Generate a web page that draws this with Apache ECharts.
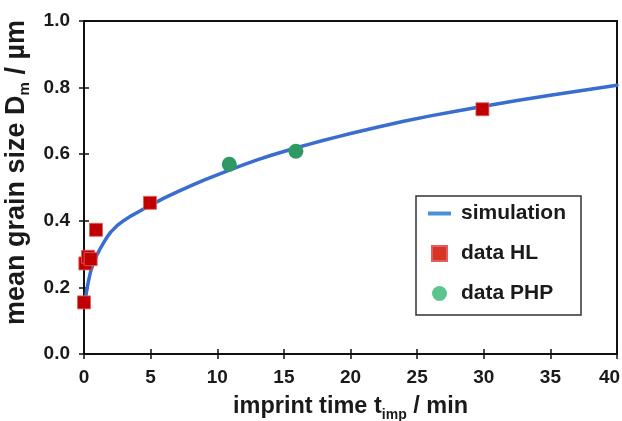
<!DOCTYPE html>
<html>
<head>
<meta charset="utf-8">
<script src="https://cdn.jsdelivr.net/npm/echarts@6/dist/echarts.min.js"></script>
<style>
  html, body { margin: 0; padding: 0; background: #fff; }
  #chart { width: 622px; height: 421px; }
</style>
</head>
<body>
<div id="chart"></div>
<script>
// Simulated grain size curve (imprint time in min, mean grain size in µm)
const simTime = [0.12, 0.2, 0.3, 0.4, 0.5, 0.65, 0.8, 1.0, 1.25, 1.5, 1.75, 2.0, 2.5, 3.0, 3.5, 4.0, 4.5, 5.0,
                 6, 7, 8, 9, 10, 11, 12, 13, 14, 15, 16, 17, 18, 19, 20, 22, 24, 26, 28, 30, 32.5, 35, 37.5, 40];
const simSize = [0.170, 0.190, 0.212, 0.231, 0.248, 0.266, 0.281, 0.300, 0.319, 0.336, 0.352, 0.366, 0.386, 0.401, 0.414, 0.425, 0.436, 0.447,
                 0.468, 0.487, 0.505, 0.522, 0.538, 0.554, 0.569, 0.583, 0.596, 0.608, 0.620, 0.631, 0.642, 0.652, 0.662, 0.681, 0.699, 0.715, 0.730, 0.744, 0.761, 0.777, 0.792, 0.807];

// Measured grain sizes, HL imprinting
const hlTime = [0, 0.1, 0.3, 0.5, 0.9, 4.95, 29.9];
const hlSize = [0.155, 0.272, 0.292, 0.285, 0.373, 0.454, 0.735];

// Measured grain sizes, PHP imprinting
const phpTime = [10.9, 15.9];
const phpSize = [0.570, 0.609];

// Axis ranges and tick spacing
const xRange = [0, 40], xStep = 5;
const yRange = [0, 1], yStep = 0.2;

const FONT = 'Liberation Sans, Arial, Helvetica, sans-serif';
const INK = '#1a1a1a';

const zip = (a, b) => a.map((v, i) => [v, b[i]]);

const chart = echarts.init(document.getElementById('chart'), null, { renderer: 'canvas' });

const gridBox = { left: 84, right: 5, top: 21, bottom: 67, outerBoundsMode: 'none', containLabel: false };

const xTitleRich = {
  t: { fontSize: 23.5, fontWeight: 'bold', fontFamily: FONT, color: INK, lineHeight: 30, verticalAlign: 'middle' },
  s: { fontSize: 14, fontWeight: 'bold', fontFamily: FONT, color: INK, lineHeight: 14, verticalAlign: 'bottom' }
};
const yTitleRich = {
  t: { fontSize: 27, fontWeight: 'bold', fontFamily: FONT, color: INK, lineHeight: 32, verticalAlign: 'middle' },
  s: { fontSize: 15, fontWeight: 'bold', fontFamily: FONT, color: INK, lineHeight: 15, verticalAlign: 'bottom' }
};

const tickLabel = { fontSize: 19, fontWeight: 'bold', fontFamily: FONT, color: INK };

chart.setOption({
  animation: false,
  backgroundColor: '#fff',
  grid: [
    Object.assign({ show: true, borderColor: '#111', borderWidth: 2, backgroundColor: 'transparent' }, gridBox),
    Object.assign({}, gridBox)
  ],
  xAxis: [
    {
      gridIndex: 0, type: 'value', min: xRange[0], max: xRange[1], interval: xStep,
      axisLine: { show: true, onZero: false, lineStyle: { color: '#111', width: 2 } },
      axisTick: { show: true, inside: false, length: 5, lineStyle: { color: '#111', width: 1.5 } },
      axisLabel: Object.assign({
        margin: 14,
        // the last label is nudged inward so it stays on the canvas
        formatter: v => (v === xRange[1] ? '{e|' + v + '}' : String(v)),
        rich: { e: Object.assign({ padding: [0, 15, 0, 0] }, tickLabel) }
      }, tickLabel),
      splitLine: { show: false },
      name: '{t|imprint time t}{s|imp}{t| / min}',
      nameLocation: 'middle', nameGap: 38,
      nameTextStyle: { rich: xTitleRich }
    },
    {
      gridIndex: 1, type: 'value', min: xRange[0], max: xRange[1], interval: xStep,
      axisLine: { show: false, onZero: false },
      axisTick: { show: true, inside: true, length: 5, lineStyle: { color: '#111', width: 1.5 } },
      axisLabel: { show: false },
      splitLine: { show: false }
    }
  ],
  yAxis: [
    {
      gridIndex: 0, type: 'value', min: yRange[0], max: yRange[1], interval: yStep,
      axisLine: { show: true, onZero: false, lineStyle: { color: '#111', width: 2 } },
      axisTick: { show: true, inside: false, length: 5, lineStyle: { color: '#111', width: 1.5 } },
      axisLabel: Object.assign({ margin: 14, formatter: v => v.toFixed(1) }, tickLabel),
      splitLine: { show: false },
      name: '{t|mean grain size D}{s|m}{t| / µm}',
      nameLocation: 'middle', nameGap: 48,
      nameTextStyle: { rich: yTitleRich, padding: [0, 0, 0, 30] }
    },
    {
      gridIndex: 1, type: 'value', min: yRange[0], max: yRange[1], interval: yStep,
      axisLine: { show: false, onZero: false },
      axisTick: { show: true, inside: true, length: 5, lineStyle: { color: '#111', width: 1.5 } },
      axisLabel: { show: false },
      splitLine: { show: false }
    }
  ],
  legend: {
    orient: 'vertical',
    left: 416, top: 196,
    padding: [7, 15, 11, 12],
    itemGap: 19,
    itemWidth: 23,
    itemHeight: 15,
    borderColor: '#333',
    borderWidth: 1.5,
    textStyle: { fontSize: 21, fontWeight: 'bold', fontFamily: FONT, color: INK, padding: [0, 0, 0, 5] },
    data: [
      { name: 'simulation', icon: 'path://M0,0H23V4H0Z', itemStyle: { color: '#4a8fd6' } },
      { name: 'data HL', icon: 'path://M0,0H10V10H0Z', itemStyle: { color: '#d93425' } },
      { name: 'data PHP', icon: 'circle', itemStyle: { color: '#5cc48e' } }
    ]
  },
  series: [
    {
      name: 'simulation', type: 'line', xAxisIndex: 0, yAxisIndex: 0,
      data: zip(simTime, simSize),
      smooth: false,
      showSymbol: false, symbol: 'none',
      lineStyle: { color: '#3a6dd0', width: 3.5, join: 'round', cap: 'round' },
      itemStyle: { color: '#3a6dd0' },
      z: 2
    },
    {
      name: 'data HL', type: 'scatter', xAxisIndex: 0, yAxisIndex: 0,
      data: zip(hlTime, hlSize),
      symbol: 'rect', symbolSize: 13,
      itemStyle: { color: '#c00000', borderColor: '#e06060', borderWidth: 0.8, opacity: 1 },
      z: 3
    },
    {
      name: 'data PHP', type: 'scatter', xAxisIndex: 0, yAxisIndex: 0,
      data: zip(phpTime, phpSize),
      symbol: 'circle', symbolSize: 15,
      itemStyle: { color: '#2e9a63', opacity: 1 },
      z: 3
    }
  ]
});
</script>
</body>
</html>
